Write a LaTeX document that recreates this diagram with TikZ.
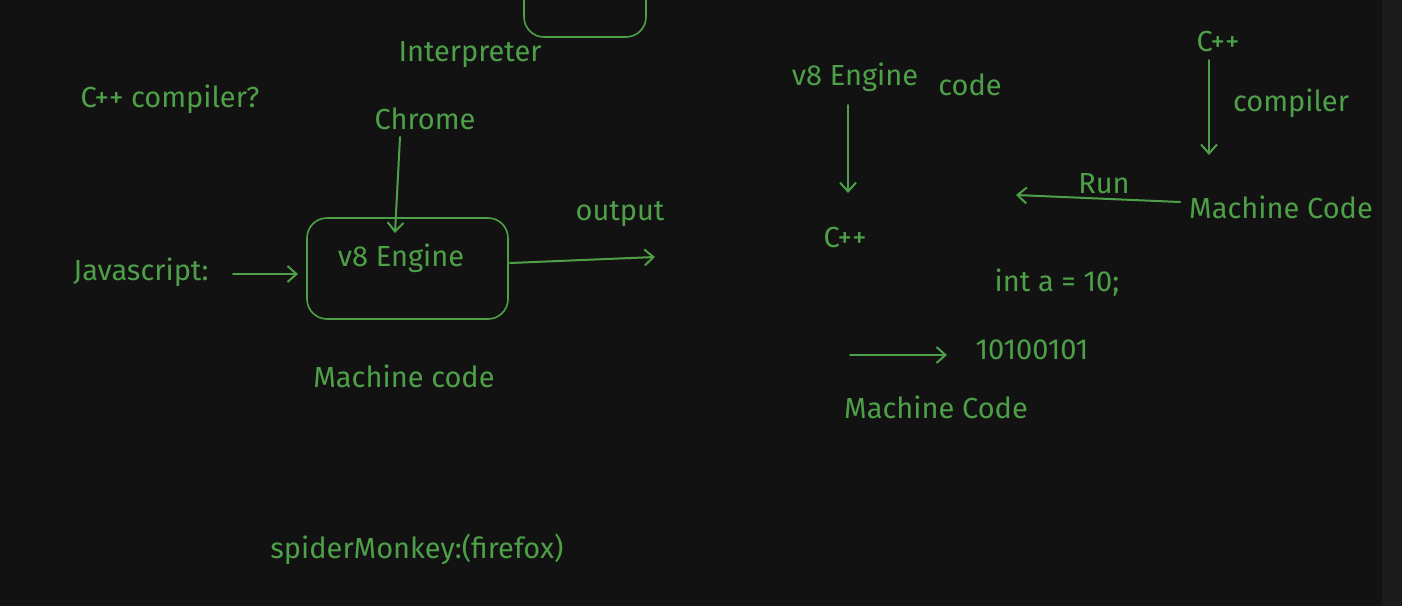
\documentclass[tikz,border=0pt]{standalone}
\usepackage{fontspec}
\setmainfont{Fira Sans}
\usetikzlibrary{arrows.meta}
\definecolor{bg}{RGB}{18,18,18}
\definecolor{strip}{RGB}{27,27,27}
\definecolor{gr}{RGB}{78,160,72}
\begin{document}
\begin{tikzpicture}[x=1pt,y=-1pt,
  txt/.style={text=gr, font=\fontsize{29}{33}\selectfont, inner sep=0pt},
  arr/.style={draw=gr, line width=2pt, line cap=round, -{Straight Barb[length=9pt,width=16pt,line width=2pt]}},
  box/.style={draw=gr, line width=1.6pt, rounded corners=20pt}]
\useasboundingbox (0,0) rectangle (1402,606);
\clip (0,0) rectangle (1402,606);
\fill[bg] (0,0) rectangle (1402,606);
\fill[strip] (1382,0) rectangle (1402,606);

% boxes
\node[box, minimum width=122pt, minimum height=100pt] (interp) at (585,-13) {};
\node[box, minimum width=201pt, minimum height=101pt] (v8box) at (407.5,268.5) {};

% texts
\node[txt] (interpT) at (470,55) {Interpreter};
\node[txt] (cppq) at (170,99) {C++ compiler?};
\node[txt] (chrome) at (425,119) {Chrome};
\node[txt] (v8txt) at (401,258) {v8 Engine};
\node[txt] (output) at (620,214) {output};
\node[txt] (js) at (141,272) {Javascript:};
\node[txt] (mc1) at (404,376) {Machine code};
\node[txt] (spider) at (417,549) {spiderMonkey:(firefox)};
\node[txt] (v8r) at (855,77) {v8 Engine};
\node[txt] (code) at (970,85) {code};
\node[txt] (cppL) at (845,238) {C++};
\node[txt] (cppR) at (1218,42) {C++};
\node[txt] (compiler) at (1291,103) {compiler};
\node[txt] (mcR) at (1281,207) {Machine Code};
\node[txt] (run) at (1104,184) {Run};
\node[txt] (inta) at (1057,283) {int a = 10;};
\node[txt] (bin) at (1032,350) {10100101};
\node[txt] (mc2) at (936,407) {Machine Code};

% arrow end points
\coordinate (chS) at (400,137);
\coordinate (chE) at (395,233);
\coordinate (jsS) at (233,274);
\coordinate (jsE) at (298,274);
\coordinate (outS) at (510,263);
\coordinate (outE) at (655,257);
\coordinate (v8S) at (848,105);
\coordinate (v8E) at (848,193);
\coordinate (cpS) at (1209,60);
\coordinate (cpE) at (1209,155);
\coordinate (runS) at (1180,202);
\coordinate (runE) at (1016,195);
\coordinate (binS) at (850,355);
\coordinate (binE) at (947,355);

\draw[arr] (chS) -- (chE);
\draw[arr] (jsS) -- (jsE);
\draw[arr] (outS) -- (outE);
\draw[arr] (v8S) -- (v8E);
\draw[arr] (cpS) -- (cpE);
\draw[arr] (runS) -- (runE);
\draw[arr] (binS) -- (binE);
\end{tikzpicture}
\end{document}
